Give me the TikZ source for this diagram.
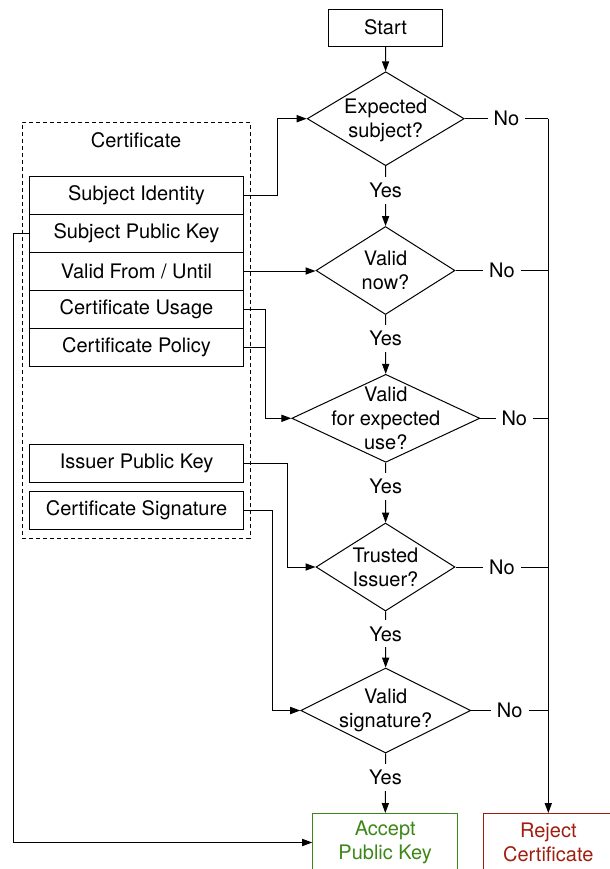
\documentclass[tikz,border=0pt]{standalone}
\usepackage{fontspec}
\setmainfont{TeX Gyre Heros}
\usetikzlibrary{arrows.meta,positioning,shapes.geometric}

\definecolor{acceptgreen}{RGB}{61,135,24}
\definecolor{rejectred}{RGB}{160,30,15}

\begin{document}
\begin{tikzpicture}[
  x=0.5pt,y=-0.5pt,
  >={Triangle[length=5pt,width=3.6pt]},
  font=\fontsize{10}{12}\selectfont,
  box/.style={draw,line width=0.5pt,minimum width=57pt,minimum height=18.5pt,inner sep=0pt,align=center},
  endbox/.style={box,minimum height=29pt},
  field/.style={draw,line width=0.5pt,minimum width=107pt,minimum height=19pt,inner sep=0pt,outer sep=0pt},
  decision/.style={draw,diamond,line width=0.5pt,inner sep=0pt},
  link/.style={->,line width=0.5pt},
  wire/.style={line width=0.5pt},
  lab/.style={fill=white,inner sep=3pt}
]
\useasboundingbox (0,0) rectangle (610,869);
\clip (0,0) rectangle (610,869);
% main column
\node[box] (start) at (385.5,27.5) {Start};
\node[decision,minimum width=78.5pt,minimum height=47pt,label={[align=center,yshift=-1pt]center:{Expected\\subject?}}] (subj) at (385.7,118.7) {};
\node[decision,minimum width=69.5pt,minimum height=44pt,label={[align=center]center:{Valid\\now?}}] (valid) at (385.5,270.5) {};
\node[decision,minimum width=94pt,minimum height=44pt,label={[align=center]center:{Valid\\for expected\\use?}}] (use) at (385.8,418.3) {};
\node[decision,minimum width=69.5pt,minimum height=44pt,label={[align=center]center:{Trusted\\Issuer?}}] (trusted) at (385.5,567) {};
\node[decision,minimum width=85pt,minimum height=42.5pt,label={[align=center]center:{Valid\\signature?}}] (sigok) at (385.7,710.5) {};
\node[endbox,minimum width=72.5pt,draw=acceptgreen,text=acceptgreen] (accept) at (385.2,842.5) {Accept\\Public Key};
\node[endbox,minimum width=65pt,draw=rejectred,text=rejectred] (reject) at (548.3,842.5) {Reject\\Certificate};
% certificate fields
\node[draw,line width=0.5pt,dash pattern=on 2pt off 1.5pt,minimum width=114pt,minimum height=208pt] (cert) at (136,330) {};
\node (certlab) at (136,140) {Certificate};
\node[field] (subjid) at (136.5,195) {Subject Identity};
\node[field,below=0pt of subjid] (subjkey) {Subject Public Key};
\node[field,below=0pt of subjkey] (validity) {Valid From / Until};
\node[field,below=0pt of validity] (usage) {Certificate Usage};
\node[field,below=0pt of usage] (policy) {Certificate Policy};
\node[field] (issuer) at (136.5,463.2) {Issuer Public Key};
\node[field] (sig) at (136.5,510.2) {Certificate Signature};
% yes path
\draw[link] (start) -- (subj);
\draw[link] (subj) -- (valid) node[pos=0.4,lab] {Yes};
\draw[link] (valid) -- (use) node[pos=0.4,lab] {Yes};
\draw[link] (use) -- (trusted) node[pos=0.4,lab] {Yes};
\draw[link] (trusted) -- (sigok) node[pos=0.4,lab] {Yes};
\draw[link] (sigok) -- (accept) node[pos=0.4,lab] {Yes};
% no path
\coordinate (nobus) at (subj.east -| reject.north);
\draw[wire] (subj.east) -- (nobus) node[midway,lab] {No};
\draw[link] (nobus) -- (reject.north);
\draw[wire] (valid.east) -- (valid.east -| nobus) node[midway,lab] {No};
\draw[wire] (use.east) -- (use.east -| nobus) node[midway,lab] {No};
\draw[wire] (trusted.east) -- (trusted.east -| nobus) node[midway,lab] {No};
\draw[wire] (sigok.east) -- (sigok.east -| nobus) node[midway,lab] {No};
% field inputs
\draw[link] (subjid.east) -- ++(34,0) |- (subj.west);
\draw[link] (subjkey.west) -- ++(-16,0) |- (accept.west);
\draw[link] (validity.east) -- (validity.east -| valid.west);
\draw[link] (usage.east) -- ++(22,0) |- (use.west);
\draw[wire] (policy.east) -- ++(22,0);
\draw[link] (issuer.east) -- ++(44,0) |- (trusted.west);
\draw[link] (sig.east) -- ++(29,0) |- (sigok.west);
\end{tikzpicture}
\end{document}
